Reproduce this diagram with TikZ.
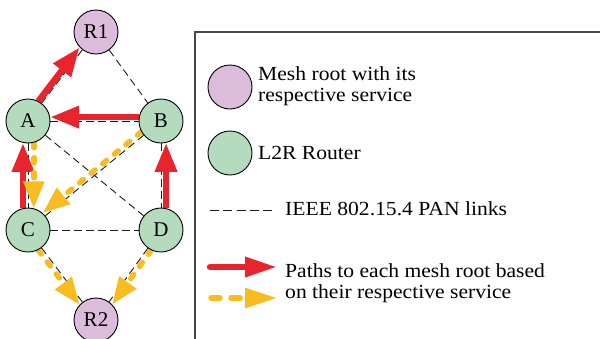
\documentclass[tikz,border=0pt]{standalone}
\usepackage{fontspec}
\setmainfont{Liberation Serif}
\newfontfamily\legfont[FakeStretch=1.08]{Liberation Serif}
\usetikzlibrary{arrows.meta}
\pgfdeclarelayer{background}
\pgfsetlayers{background,main}
\definecolor{rootfill}{RGB}{219,188,219}
\definecolor{routerfill}{RGB}{180,219,190}
\definecolor{pathred}{RGB}{232,36,44}
\definecolor{pathyellow}{RGB}{249,188,30}
\definecolor{boxgray}{RGB}{70,70,70}
\begin{document}
\begin{tikzpicture}[x=1pt,y=-1pt,
  nodebase/.style={circle,draw=black,line width=0.9pt,minimum size=44pt,inner sep=0pt,font=\fontsize{21}{24}\selectfont},
  rootnode/.style={nodebase,fill=rootfill},
  routernode/.style={nodebase,fill=routerfill},
  link/.style={draw=black!90,line width=0.9pt,dash pattern=on 7.5pt off 4.5pt},
  redpath/.style={draw=pathred,line width=6.5pt,-{Triangle[length=29pt,width=21pt]}},
  yellowpath/.style={draw=pathyellow,line width=5.5pt,line cap=round,dash pattern=on 5pt off 10pt,-{Triangle[length=27pt,width=20pt]}},
  legtext/.style={anchor=west,inner sep=0pt,font=\legfont\fontsize{20}{20.5}\selectfont,align=left},
]
\useasboundingbox (0,0) rectangle (600,338);
\clip (0,0) rectangle (600,338);

% graph nodes
\node[rootnode] (R1) at (96,32) {R1};
\node[routernode] (A) at (28,121) {A};
\node[routernode] (B) at (161,121) {B};
\node[routernode] (C) at (28,230) {C};
\node[routernode] (D) at (161,230) {D};
\node[rootnode] (R2) at (96,320) {R2};

\begin{pgfonlayer}{background}
% links
\draw[link] (R1) -- (A);
\draw[link] (R1) -- (B);
\draw[link] (A) -- (B);
\draw[link] (A) -- (C);
\draw[link] (A) -- (D);
\draw[link] (B) -- (C);
\draw[link] (B) -- (D);
\draw[link] (C) -- (D);
\draw[link] (C) -- (R2);
\draw[link] (D) -- (R2);
% red paths
\draw[redpath] (A.62) -- (R1.223);
\draw[redpath] (B.170) -- (A.10);
\draw[redpath] (C.103) -- (A.257);
\draw[redpath] (D.77) -- (B.283);
% yellow paths
\draw[yellowpath] (A.285) -- (C.75);
\draw[yellowpath] (B.209) -- (C.49);
\draw[yellowpath] (C.297) -- (R2.137);
\draw[yellowpath] (D.244) -- (R2.44);
\end{pgfonlayer}

% legend
\draw[boxgray,line width=1.4pt] (195,32) rectangle (620,360);
\node[rootnode] (legroot) at (230,87) {};
\node[routernode] (legrouter) at (230,153) {};
\node[legtext] (t1) at (258,86) {Mesh root with its\\respective service};
\node[legtext] (t2) at (258,153) {L2R Router};
\coordinate (l1s) at (210,210);
\coordinate (l1e) at (272,210);
\draw[link,dash pattern=on 9pt off 4.3pt] (l1s) -- (l1e);
\node[legtext] (t3) at (285,209) {IEEE 802.15.4 PAN links};
\coordinate (l2s) at (210,267);
\coordinate (l2e) at (277,267);
\draw[redpath,line cap=round,-{Triangle[length=32pt,width=19pt]}] (l2s) -- (l2e);
\coordinate (l3s) at (211,298);
\coordinate (l3e) at (277,298);
\draw[yellowpath,dash pattern=on 9pt off 11pt,-{Triangle[length=32pt,width=19pt]}] (l3s) -- (l3e);
\node[legtext] (t4) at (285,283) {Paths to each mesh root based\\on their respective service};
\end{tikzpicture}
\end{document}
